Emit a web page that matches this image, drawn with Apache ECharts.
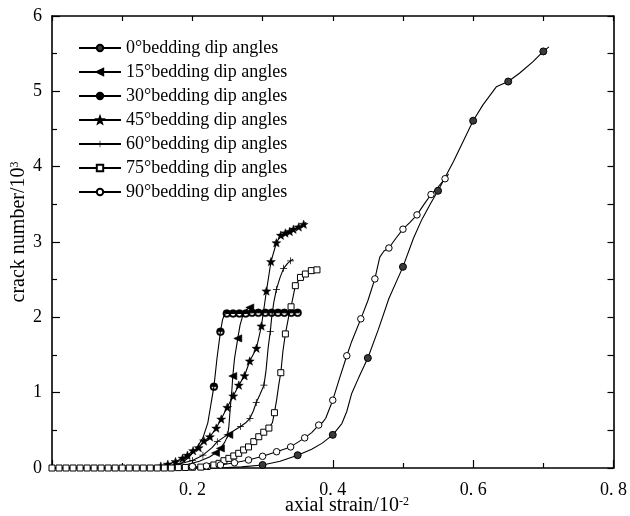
<!DOCTYPE html>
<html>
<head>
<meta charset="utf-8">
<script src="https://cdn.jsdelivr.net/npm/echarts@6/dist/echarts.min.js"></script>
<style>html,body{margin:0;padding:0;background:#fff}#c{width:630px;height:516px}</style>
</head>
<body>
<div id="c"></div>
<script>
// ---------- data (axial strain /10^-2, crack number /10^3) ----------
const seriesNames = ['0°bedding dip angles','15°bedding dip angles','30°bedding dip angles','45°bedding dip angles','60°bedding dip angles','75°bedding dip angles','90°bedding dip angles'];

const curve0 = [[0,0],[0.1,0],[0.2,0],[0.25,0.005],[0.27,0.015],[0.3,0.04],[0.325,0.09],[0.35,0.17],[0.37,0.25],[0.385,0.33],[0.4,0.44],[0.413,0.59],[0.42,0.75],[0.427,0.99],[0.437,1.2],[0.45,1.46],[0.465,1.84],[0.48,2.25],[0.5,2.67],[0.515,3.05],[0.527,3.3],[0.54,3.52],[0.55,3.68],[0.572,4.07],[0.6,4.61],[0.614,4.82],[0.633,5.06],[0.65,5.13],[0.666,5.24],[0.685,5.39],[0.7,5.53],[0.708,5.59]];
const marks0 = [[0.3,0.04],[0.35,0.17],[0.4,0.44],[0.45,1.46],[0.5,2.67],[0.55,3.68],[0.6,4.61],[0.65,5.13],[0.7,5.53]];

const curve15 = [[0,0],[0.12,0],[0.16,0.01],[0.19,0.04],[0.21,0.09],[0.225,0.15],[0.233,0.2],[0.24,0.26],[0.246,0.34],[0.25,0.42],[0.252,0.55],[0.254,0.8],[0.256,1.0],[0.2576,1.22],[0.26,1.45],[0.2647,1.72],[0.268,1.9],[0.272,2.03],[0.277,2.1],[0.2818,2.13],[0.285,2.15]];
const marks15 = [[0.233,0.2],[0.24,0.26],[0.252,0.44],[0.2576,1.22],[0.2647,1.72],[0.2818,2.13]];

const curve30 = [[0,0],[0.1,0],[0.15,0.01],[0.17,0.03],[0.185,0.07],[0.195,0.14],[0.205,0.25],[0.215,0.4],[0.222,0.6],[0.2265,0.85],[0.2307,1.08],[0.235,1.45],[0.24,1.81],[0.243,1.97],[0.246,2.04],[0.25,2.05],[0.3,2.06],[0.352,2.06]];
const marks30 = [[0.2307,1.08],[0.24,1.81],[0.249,2.05],[0.258,2.05],[0.267,2.05],[0.276,2.05],[0.285,2.06],[0.294,2.06],[0.304,2.06],[0.313,2.06],[0.322,2.06],[0.331,2.06],[0.341,2.06],[0.35,2.06]];

const curve45 = [[0,0],[0.12,0],[0.15,0.02],[0.165,0.05],[0.176,0.085],[0.186,0.13],[0.193,0.17],[0.201,0.23],[0.209,0.27],[0.2165,0.36],[0.225,0.415],[0.234,0.53],[0.2411,0.65],[0.2497,0.805],[0.2582,0.956],[0.2662,1.1],[0.2743,1.225],[0.2818,1.42],[0.2913,1.59],[0.2984,1.885],[0.3055,2.35],[0.312,2.74],[0.3197,2.99],[0.326,3.09],[0.3325,3.12],[0.3387,3.14],[0.344,3.17],[0.3515,3.2],[0.3586,3.235],[0.362,3.26]];
const marks45 = [[0.155,0.025],[0.165,0.05],[0.176,0.085],[0.186,0.13],[0.193,0.17],[0.201,0.23],[0.209,0.27],[0.2165,0.36],[0.225,0.415],[0.234,0.53],[0.2411,0.65],[0.2497,0.805],[0.2582,0.956],[0.2662,1.1],[0.2743,1.225],[0.2818,1.42],[0.2913,1.59],[0.2984,1.885],[0.3055,2.35],[0.312,2.74],[0.3197,2.99],[0.326,3.09],[0.3325,3.12],[0.3387,3.14],[0.344,3.17],[0.3515,3.2],[0.3586,3.235]];

const curve60 = [[0,0],[0.13,0],[0.16,0.02],[0.18,0.05],[0.2,0.1],[0.215,0.17],[0.228,0.27],[0.2355,0.35],[0.2497,0.44],[0.26,0.5],[0.2686,0.55],[0.276,0.6],[0.282,0.66],[0.287,0.76],[0.291,0.87],[0.296,0.97],[0.302,1.1],[0.305,1.3],[0.308,1.6],[0.311,1.81],[0.313,2.0],[0.316,2.2],[0.3197,2.37],[0.325,2.53],[0.33,2.65],[0.336,2.72],[0.3435,2.77]];
const marks60 = [[0.2,0.1],[0.215,0.17],[0.2355,0.35],[0.2497,0.44],[0.2686,0.55],[0.282,0.66],[0.291,0.87],[0.302,1.1],[0.311,1.81],[0.3197,2.37],[0.33,2.65],[0.34,2.75]];

const curve75 = [[0,0],[0.14,0],[0.18,0.005],[0.2,0.01],[0.221,0.02],[0.2306,0.04],[0.238,0.062],[0.245,0.097],[0.252,0.128],[0.259,0.16],[0.266,0.195],[0.273,0.24],[0.28,0.28],[0.2875,0.35],[0.2946,0.415],[0.3017,0.475],[0.309,0.53],[0.314,0.6],[0.3169,0.734],[0.32,0.9],[0.323,1.1],[0.326,1.265],[0.329,1.55],[0.3325,1.78],[0.337,2.0],[0.3406,2.14],[0.3467,2.42],[0.354,2.53],[0.361,2.575],[0.3695,2.62],[0.3775,2.63]];
const marks75 = [[0,0],[0.01,0],[0.02,0],[0.03,0],[0.04,0],[0.05,0],[0.06,0],[0.07,0],[0.08,0],[0.09,0],[0.1,0],[0.11,0],[0.12,0],[0.13,0],[0.14,0],[0.15,0],[0.16,0],[0.17,0],[0.18,0.005],[0.19,0.007],[0.2,0.01],[0.212,0.012],[0.221,0.02],[0.2306,0.04],[0.238,0.062],[0.245,0.097],[0.252,0.128],[0.259,0.16],[0.266,0.195],[0.273,0.24],[0.28,0.28],[0.2875,0.35],[0.2946,0.415],[0.3017,0.475],[0.309,0.53],[0.3169,0.734],[0.326,1.265],[0.3325,1.78],[0.3406,2.14],[0.3467,2.42],[0.354,2.53],[0.361,2.575],[0.3695,2.62],[0.3775,2.63]];

const curve90 = [[0,0],[0.1,0],[0.15,0.005],[0.18,0.01],[0.2,0.02],[0.22,0.027],[0.24,0.04],[0.26,0.07],[0.28,0.106],[0.3,0.155],[0.32,0.216],[0.34,0.28],[0.36,0.4],[0.37,0.47],[0.38,0.57],[0.385,0.6],[0.39,0.66],[0.4,0.9],[0.41,1.2],[0.42,1.49],[0.427,1.68],[0.44,1.98],[0.45,2.22],[0.46,2.51],[0.467,2.8],[0.473,2.88],[0.48,2.92],[0.49,3.05],[0.5,3.17],[0.51,3.26],[0.52,3.36],[0.53,3.5],[0.54,3.63],[0.55,3.73],[0.56,3.84],[0.565,3.9]];
const marks90 = [[0.2,0.02],[0.22,0.027],[0.24,0.04],[0.26,0.07],[0.28,0.106],[0.3,0.155],[0.32,0.216],[0.34,0.28],[0.36,0.4],[0.38,0.57],[0.4,0.9],[0.42,1.49],[0.44,1.98],[0.46,2.51],[0.48,2.92],[0.5,3.17],[0.52,3.36],[0.54,3.63],[0.56,3.84]];

const xTickValues = [0.2, 0.4, 0.6, 0.8];
const yTickValues = [0, 1, 2, 3, 4, 5, 6];

// ---------- marker shapes ----------
function starPath() {
  let d = '';
  for (let i = 0; i < 10; i++) {
    const r = i % 2 === 0 ? 1 : 0.42;
    const a = -Math.PI / 2 + i * Math.PI / 5;
    d += (i === 0 ? 'M' : 'L') + (r * Math.cos(a)).toFixed(3) + ',' + (r * Math.sin(a)).toFixed(3) + ' ';
  }
  return 'path://' + d + 'Z';
}
const halfCircle = 'path://M-1,0 A1,1 0 0 1 1,0 Z M1,0 A1,1 0 0 1 -1,0 L-0.62,0 A0.62,0.62 0 0 0 0.62,0 Z';
const leftTri = 'path://M-1,0 L1,-0.9 L1,0.9 Z';
const plusSym = 'path://M-0.1,-1 L0.1,-1 L0.1,-0.1 L1,-0.1 L1,0.1 L0.1,0.1 L0.1,1 L-0.1,1 L-0.1,0.1 L-1,0.1 L-1,-0.1 L-0.1,-0.1 Z';

const styles = [
  {symbol: 'circle', size: 7, fill: '#3a3a3a', bw: 1},
  {symbol: leftTri, size: 8, fill: '#000', bw: 0.6},
  {symbol: halfCircle, size: 8, fill: '#000', bw: 0.3},
  {symbol: starPath(), size: 9, fill: '#000', bw: 0.4},
  {symbol: plusSym, size: 7, fill: '#000', bw: 0},
  {symbol: 'rect', size: 6, fill: '#fff', bw: 1},
  {symbol: 'circle', size: 6.5, fill: '#fff', bw: 1}
];
const curves = [curve0, curve15, curve30, curve45, curve60, curve75, curve90];
const marks = [marks0, marks15, marks30, marks45, marks60, marks75, marks90];

function buildData(curve, mk) {
  const pts = curve.map(p => ({value: p, k: 0})).concat(mk.map(p => ({value: p, k: 1})));
  pts.sort((a, b) => a.value[0] - b.value[0] || a.value[1] - b.value[1] || a.k - b.k);
  return pts.map(p => p.k ? {value: p.value} : {value: p.value, symbol: 'none', symbolSize: 0});
}

const FONT = '"Liberation Serif", "Times New Roman", serif';

const series = seriesNames.map((name, i) => ({
  name: name,
  type: 'line',
  data: buildData(curves[i], marks[i]),
  symbol: styles[i].symbol,
  symbolSize: styles[i].size,
  symbolKeepAspect: true,
  showSymbol: true,
  clip: false,
  animation: false,
  lineStyle: {color: '#000', width: 1.1},
  itemStyle: {color: styles[i].fill, borderColor: '#000', borderWidth: styles[i].bw},
  emphasis: {disabled: true}
}));

const chart = echarts.init(document.getElementById('c'), null, {renderer: 'canvas'});
const axisLineStyle = {color: '#000', width: 1.6};
chart.setOption({
  backgroundColor: '#fff',
  animation: false,
  grid: {left: 52, right: 16, top: 16, bottom: 48},
  legend: {
    orient: 'vertical', left: 73, top: 34,
    itemWidth: 42, itemHeight: 8, itemGap: 6,
    textStyle: {fontFamily: FONT, fontSize: 18, color: '#000', lineHeight: 18},
    data: seriesNames,
    selectedMode: false
  },
  xAxis: [
    {type: 'value', position: 'bottom', min: 0, max: 0.8, interval: 0.2,
     axisLine: {show: true, onZero: false, lineStyle: axisLineStyle},
     axisTick: {show: true, inside: true, length: 8, lineStyle: {color: '#000', width: 1.2}},
     minorTick: {show: true, splitNumber: 2, length: 5, lineStyle: {color: '#000', width: 1.2}},
     splitLine: {show: false},
     axisLabel: {show: true, margin: 13, fontFamily: FONT, fontSize: 18, color: '#000',
       formatter: v => xTickValues.some(t => Math.abs(t - v) < 1e-9) ? v.toFixed(1).replace('.', '. ') : ''}},
    {type: 'value', position: 'top', min: 0, max: 0.8, interval: 0.1,
     axisLine: {show: true, onZero: false, lineStyle: axisLineStyle},
     axisTick: {show: true, inside: true, length: 5, lineStyle: {color: '#000', width: 1.2}},
     splitLine: {show: false}, axisLabel: {show: false}}
  ],
  yAxis: [
    {type: 'value', position: 'left', min: 0, max: 6, interval: 1,
     axisLine: {show: true, onZero: false, lineStyle: axisLineStyle},
     axisTick: {show: true, inside: true, length: 8, lineStyle: {color: '#000', width: 1.2}},
     minorTick: {show: true, splitNumber: 2, length: 5, lineStyle: {color: '#000', width: 1.2}},
     splitLine: {show: false},
     axisLabel: {show: true, margin: 10, fontFamily: FONT, fontSize: 18, color: '#000',
       formatter: v => yTickValues.includes(v) ? String(v) : ''}},
    {type: 'value', position: 'right', min: 0, max: 6, interval: 0.5,
     axisLine: {show: true, onZero: false, lineStyle: axisLineStyle},
     axisTick: {show: true, inside: true, length: 6, lineStyle: {color: '#000', width: 1.2}},
     splitLine: {show: false}, axisLabel: {show: false}}
  ],
  graphic: [
    {type: 'text', x: 347, y: 506, silent: true,
     style: {text: '{a|axial strain/10}{s|-2}', align: 'center', verticalAlign: 'middle',
       rich: {a: {fontFamily: FONT, fontSize: 20, lineHeight: 21, fill: '#000'},
              s: {fontFamily: FONT, fontSize: 12, lineHeight: 12, verticalAlign: 'top', fill: '#000'}}}},
    {type: 'text', x: 19, y: 232, rotation: Math.PI / 2, silent: true,
     style: {text: '{a|crack number/10}{s|3}', align: 'center', verticalAlign: 'middle',
       rich: {a: {fontFamily: FONT, fontSize: 20, lineHeight: 21, fill: '#000'},
              s: {fontFamily: FONT, fontSize: 12, lineHeight: 12, verticalAlign: 'top', fill: '#000'}}}}
  ],
  series: series
});
</script>
</body>
</html>
